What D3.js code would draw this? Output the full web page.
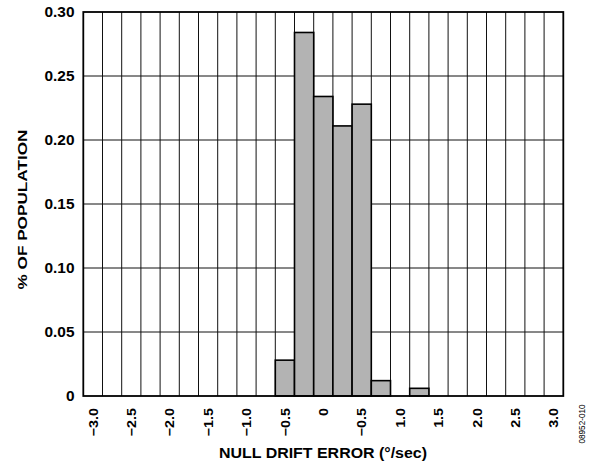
<!DOCTYPE html>
<html><head><meta charset="utf-8">
<script src="https://cdn.jsdelivr.net/npm/d3@7"></script>
<style>body{margin:0;background:#fff}</style>
</head><body>
<script>
const binCenters = [-0.5, -0.25, 0, 0.25, 0.5, 0.75, 1.0, 1.25];
const binValues = [0.028, 0.284, 0.234, 0.211, 0.228, 0.012, 0, 0.006];
const xTickValues = [-3.0, -2.5, -2.0, -1.5, -1.0, -0.5, 0, 0.5, 1.0, 1.5, 2.0, 2.5, 3.0];
const xTickLabels = ["\u22123.0","\u22122.5","\u22122.0","\u22121.5","\u22121.0","\u22120.5","0","\u22120.5","1.0","1.5","2.0","2.5","3.0"];
const yTickValues = [0, 0.05, 0.10, 0.15, 0.20, 0.25, 0.30];
const yTickLabels = ["0","0.05","0.10","0.15","0.20","0.25","0.30"];

const W = 591, H = 464;
const L = 83.3, R = 563.3, T = 12, B = 396;
const binW = 0.25;
const svg = d3.select("body").append("svg").attr("width", W).attr("height", H);
const x = d3.scaleLinear().domain([-3.125, 3.125]).range([L, R]);
const y = d3.scaleLinear().domain([0, 0.30]).range([B, T]);
const font = "Arial, 'Liberation Sans', sans-serif";

function stretch(sel, f) {
  sel.each(function () {
    const len = this.getComputedTextLength();
    d3.select(this).attr("textLength", len * f).attr("lengthAdjust", "spacingAndGlyphs");
  });
}

// vertical grid
const vlines = d3.range(-3.125 + binW, 3.125 - 0.001, binW);
svg.append("g").selectAll("line").data(vlines).join("line")
  .attr("x1", d => x(d)).attr("x2", d => x(d)).attr("y1", T).attr("y2", B)
  .attr("stroke", "#111").attr("stroke-width", 1);
// horizontal grid
svg.append("g").selectAll("line").data(yTickValues.slice(1, -1)).join("line")
  .attr("x1", L).attr("x2", R).attr("y1", d => y(d)).attr("y2", d => y(d))
  .attr("stroke", "#111").attr("stroke-width", 1);

// bars
svg.append("g").selectAll("rect").data(binCenters.map((c, i) => ({c, v: binValues[i]})).filter(d => d.v > 0)).join("rect")
  .attr("x", d => x(d.c - binW / 2)).attr("width", d => x(d.c + binW / 2) - x(d.c - binW / 2))
  .attr("y", d => y(d.v)).attr("height", d => y(0) - y(d.v))
  .attr("fill", "#b3b3b3").attr("stroke", "#000").attr("stroke-width", 1.6);

// frame
svg.append("rect").attr("x", L).attr("y", T).attr("width", R - L).attr("height", B - T)
  .attr("fill", "none").attr("stroke", "#000").attr("stroke-width", 1.8);

// y ticks labels
svg.append("g").selectAll("text").data(yTickValues).join("text")
  .attr("x", 74.5).attr("y", d => y(d)).attr("dy", "0.36em")
  .attr("text-anchor", "end").attr("font-family", font).attr("font-weight", "bold").attr("font-size", 14)
  .text((d, i) => yTickLabels[i]).call(stretch, 1.1);

// x tick labels
svg.append("g").selectAll("text").data(xTickValues).join("text")
  .attr("transform", d => `translate(${x(d)},408) rotate(-90)`)
  .attr("dy", "0.36em").attr("text-anchor", "end")
  .attr("font-family", font).attr("font-weight", "bold").attr("font-size", 13)
  .text((d, i) => xTickLabels[i]).call(stretch, 1.1);

// axis titles
svg.append("text").attr("x", 323).attr("y", 457.5).attr("text-anchor", "middle")
  .attr("font-family", font).attr("font-weight", "bold").attr("font-size", 14)
  .text("NULL DRIFT ERROR (°/sec)").attr("textLength", 208).attr("lengthAdjust", "spacingAndGlyphs");
svg.append("text").attr("transform", `translate(27,209.5) rotate(-90)`).attr("text-anchor", "middle")
  .attr("font-family", font).attr("font-weight", "bold").attr("font-size", 13.5)
  .text("% OF POPULATION").attr("textLength", 160).attr("lengthAdjust", "spacingAndGlyphs");
svg.append("text").attr("transform", `translate(585,424) rotate(-90)`).attr("text-anchor", "middle")
  .attr("font-family", font).attr("font-size", 8.5)
  .text("08952-010").attr("textLength", 39).attr("lengthAdjust", "spacingAndGlyphs");
</script>
</body></html>
